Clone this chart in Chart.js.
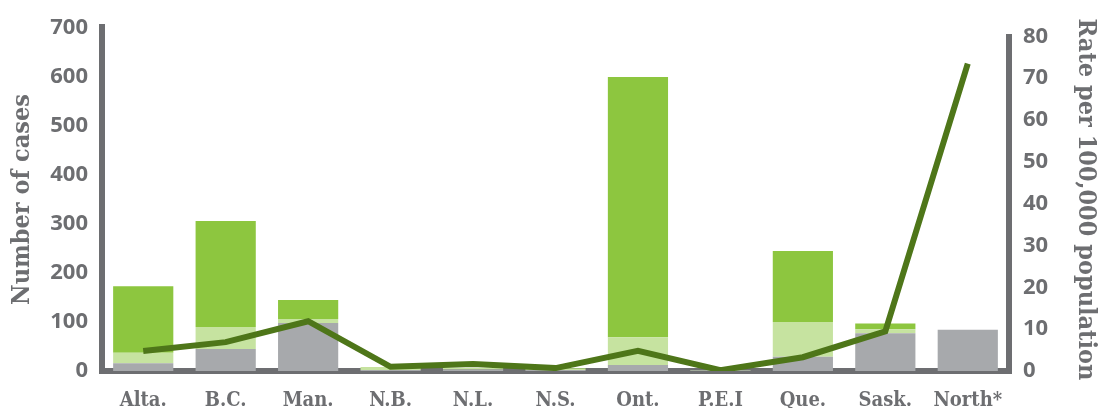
<!DOCTYPE html>
<html>
<head>
<meta charset="utf-8">
<title>Cases and rate by province</title>
<script src="https://cdn.jsdelivr.net/npm/chart.js@4/dist/chart.umd.min.js"></script>
<style>
  html, body { margin: 0; padding: 0; background: #fff; }
  #wrap { width: 1103px; height: 408px; position: relative; }
</style>
</head>
<body>
<div id="wrap"><canvas id="casesChart"></canvas></div>
<script>
const regions = ["Alta.", "B.C.", "Man.", "N.B.", "N.L.", "N.S.", "Ont.", "P.E.I", "Que.", "Sask.", "North*"];
// stacked case counts, bottom to top
const greyCases = [16, 45, 98, 2, 3, 2, 12, 1, 29, 77, 84];
const paleCases = [21, 45, 8, 4, 3, 3, 57, 1, 71, 8, 0];
const greenCases = [136, 216, 39, 1, 0, 1, 531, 0, 145, 12, 0];
// rate per 100,000 population (right axis)
const ratePer100k = [4.8, 6.9, 11.9, 1.0, 1.7, 0.7, 4.8, 0.2, 3.3, 9.5, 73.5];

const casesTicks = { min: 0, max: 700, step: 100 };
const rateTicks = { min: 0, max: 82, step: 10 };

const GREY_TEXT = "#6d6e71";
const slabFont = "'DejaVu Serif Condensed', 'DejaVu Serif', serif";
const numFont = "'Open Sans', 'DejaVu Sans', sans-serif";

// thick frame: left, bottom and right axis lines
const axisFrame = {
  id: "axisFrame",
  beforeDatasetsDraw(chart) {
    const { ctx, chartArea: a } = chart;
    ctx.save();
    ctx.strokeStyle = GREY_TEXT;
    ctx.lineWidth = 6;
    ctx.lineJoin = "miter";
    ctx.beginPath();
    ctx.moveTo(a.left, a.top - 4);
    ctx.lineTo(a.left, a.bottom);
    ctx.lineTo(a.right, a.bottom);
    ctx.lineTo(a.right, a.top + 6);
    ctx.stroke();
    ctx.restore();
  },
};

const ctx = document.getElementById("casesChart");

new Chart(ctx, {
  data: {
    labels: regions,
    datasets: [
      {
        type: "line",
        label: "Rate",
        data: ratePer100k,
        yAxisID: "y1",
        borderColor: "#4e7619",
        borderWidth: 6,
        borderCapStyle: "butt",
        borderJoinStyle: "miter",
        pointRadius: 0,
        tension: 0,
        order: 0,
      },
      {
        type: "bar",
        label: "Grey",
        data: greyCases,
        backgroundColor: "#a7a9ac",
        stack: "cases",
        order: 1,
      },
      {
        type: "bar",
        label: "Pale",
        data: paleCases,
        backgroundColor: "#c6e3a0",
        stack: "cases",
        order: 1,
      },
      {
        type: "bar",
        label: "Green",
        data: greenCases,
        backgroundColor: "#8dc63f",
        stack: "cases",
        order: 1,
      },
    ],
  },
  options: {
    responsive: true,
    maintainAspectRatio: false,
    animation: false,
    devicePixelRatio: 1,
    layout: { padding: { top: 28, left: 0, right: 0, bottom: 0 } },
    datasets: {
      bar: { categoryPercentage: 1, barPercentage: 0.73 },
    },
    plugins: {
      legend: { display: false },
      tooltip: { enabled: false },
    },
    scales: {
      x: {
        stacked: true,
        grid: { display: false, drawTicks: false },
        border: { display: false },
        afterFit: (scale) => { scale.height = 37; },
        ticks: {
          color: GREY_TEXT,
          padding: 18,
          maxRotation: 0,
          autoSkip: false,
          font: { family: slabFont, size: 20, weight: "bold" },
        },
      },
      y: {
        position: "left",
        stacked: true,
        min: casesTicks.min,
        max: casesTicks.max,
        grid: { display: false, drawTicks: false },
        border: { display: false },
        afterFit: (scale) => { scale.width = 102; },
        ticks: {
          stepSize: casesTicks.step,
          color: GREY_TEXT,
          padding: 14,
          font: { family: numFont, size: 22, weight: "bold" },
        },
        title: {
          display: true,
          text: "Number of cases",
          color: GREY_TEXT,
          padding: { top: 7, bottom: 0 },
          font: { family: slabFont, size: 25, weight: "bold" },
        },
      },
      y1: {
        position: "right",
        min: rateTicks.min,
        max: rateTicks.max,
        grid: { display: false, drawTicks: false },
        border: { display: false },
        afterFit: (scale) => { scale.width = 94; },
        ticks: {
          stepSize: rateTicks.step,
          includeBounds: false,
          color: GREY_TEXT,
          padding: 14,
          font: { family: numFont, size: 22, weight: "bold" },
        },
        title: {
          display: true,
          text: "Rate per 100,000 population",
          color: GREY_TEXT,
          padding: { top: 3, bottom: 0 },
          font: { family: slabFont, size: 25, weight: "bold" },
        },
      },
    },
  },
  plugins: [axisFrame],
});
</script>
</body>
</html>
